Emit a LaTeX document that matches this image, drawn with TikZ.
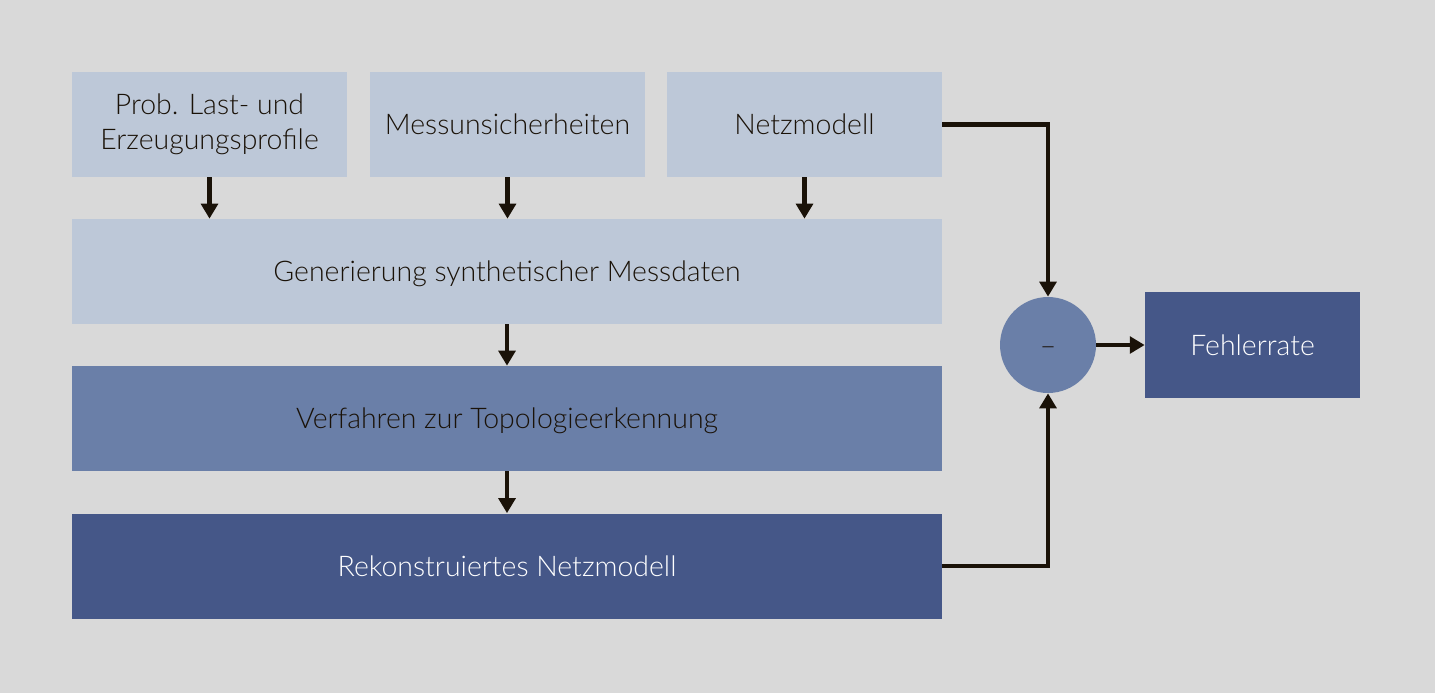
\documentclass[tikz,border=0pt]{standalone}
\usepackage{fontspec}
\setmainfont{Lato}[UprightFont=* Light]
\usetikzlibrary{arrows.meta}
\definecolor{bg}{HTML}{D9D9D9}
\definecolor{light}{HTML}{BDC8D8}
\definecolor{mid}{HTML}{6A7FA8}
\definecolor{dark}{HTML}{455788}
\definecolor{ink}{HTML}{1A1208}
\tikzset{
  box/.style={fill=#1, draw=none, inner sep=0pt, align=center, font=\fontsize{16.2}{20}\selectfont},
  lightbox/.style={box=light, text=ink},
  midbox/.style={box=mid, text=ink},
  darkbox/.style={box=dark, text=white},
  oneline/.style={text depth=0pt},
  conn/.style={draw=ink, line width=2.5pt, -{Triangle[length=8.5pt,width=9.5pt]}},
}
\begin{document}
\begin{tikzpicture}[x=0.02cm,y=-0.02cm]
\fill[bg] (0,0) rectangle (1435,693);
\useasboundingbox (0,0) rectangle (1435,693);
\node[lightbox, minimum width=5.5cm, minimum height=2.1cm] (b1) at (209.5,124.5) {Prob. Last- und\\Erzeugungsprofile};
\node[lightbox, oneline, minimum width=5.5cm, minimum height=2.1cm] (b2) at (507.5,124.5) {Messunsicherheiten};
\node[lightbox, oneline, minimum width=5.5cm, minimum height=2.1cm] (b3) at (804.5,124.5) {Netzmodell};
\node[lightbox, oneline, minimum width=17.4cm, minimum height=2.1cm] (gen) at (507,271.5) {Generierung synthetischer Messdaten};
\node[midbox, oneline, minimum width=17.4cm, minimum height=2.1cm] (ver) at (507,418.5) {Verfahren zur Topologieerkennung};
\node[darkbox, oneline, minimum width=17.4cm, minimum height=2.1cm] (rek) at (507,566) {Rekonstruiertes Netzmodell};
\node[circle, fill=mid, minimum size=1.92cm, inner sep=0pt,
  label={[text=ink, font=\fontsize{16.2}{20}\selectfont, yshift=-3.4pt]center:--}] (diff) at (1048,345) {};
\node[darkbox, oneline, minimum width=4.3cm, minimum height=2.12cm] (fr) at (1252.5,345) {Fehlerrate};
\draw[conn] (b1.south) -- (b1.south |- gen.north);
\draw[conn] (b2.south) -- (b2.south |- gen.north);
\draw[conn] (b3.south) -- (b3.south |- gen.north);
\draw[conn] (gen.south) -- (ver.north);
\draw[conn] (ver.south) -- (rek.north);
\draw[conn] (b3.east) -| (diff.north);
\draw[conn] (rek.east) -| (diff.south);
\draw[conn] (diff.east) -- (fr.west);
\end{tikzpicture}
\end{document}
